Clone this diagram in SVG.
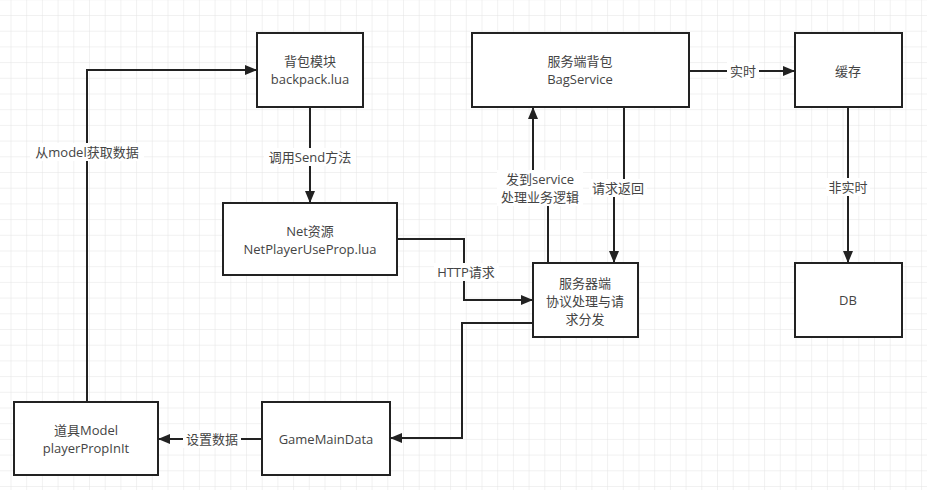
<svg xmlns="http://www.w3.org/2000/svg" width="927" height="490" viewBox="0 0 927 490">
<defs>
<pattern id="grid" x="10.5" y="15" width="15.7" height="15.7" patternUnits="userSpaceOnUse">
<path d="M0,0 H15.7 M0,0 V15.7" fill="none" stroke="#e4e4e4" stroke-width="1"/>
</pattern>
<marker id="arr" viewBox="0 0 12 10" refX="12" refY="5" markerWidth="12" markerHeight="10" markerUnits="userSpaceOnUse" orient="auto">
<path d="M0,0 L12,5 L0,10 Z" fill="#222"/>
</marker>
<style>
.box{fill:#fff;stroke:#222;stroke-width:2}
.t{font-family:"Open Sans","Noto Sans CJK SC",sans-serif;font-size:13px;fill:#444;text-anchor:middle;dominant-baseline:central}
.e{fill:none;stroke:#222;stroke-width:2}
.lb{fill:#fff}
</style>
</defs>
<rect width="927" height="490" fill="#fff"/>
<rect width="927" height="490" fill="url(#grid)"/>
<g id="connectors">
<path class="e" d="M87,402 V70 H257" marker-end="url(#arr)"/>
<path class="e" d="M310,107 V203" marker-end="url(#arr)"/>
<path class="e" d="M397,239 H464 V300 H533" marker-end="url(#arr)"/>
<path class="e" d="M548,263 V188 H533 V107" marker-end="url(#arr)"/>
<path class="e" d="M624,107 V188 H614 V263" marker-end="url(#arr)"/>
<path class="e" d="M689,71 H795" marker-end="url(#arr)"/>
<path class="e" d="M848,107 V263" marker-end="url(#arr)"/>
<path class="e" d="M533,323 H462 V438 H390" marker-end="url(#arr)"/>
<path class="e" d="M262,439 H158" marker-end="url(#arr)"/>
<rect class="lb" x="30" y="143" width="114" height="18"/>
<text class="t" x="87" y="152">从model获取数据</text>
<rect class="lb" x="264" y="148" width="92" height="18"/>
<text class="t" x="310" y="157">调用Send方法</text>
<rect class="lb" x="434" y="263" width="65" height="18"/>
<text class="t" x="466" y="272">HTTP请求</text>
<rect class="lb" x="497" y="170" width="86" height="36"/>
<text class="t" x="540" y="179">发到service</text>
<text class="t" x="540" y="197">处理业务逻辑</text>
<rect class="lb" x="589" y="179" width="58" height="18"/>
<text class="t" x="618" y="188">请求返回</text>
<rect class="lb" x="727" y="62" width="32" height="18"/>
<text class="t" x="743" y="71">实时</text>
<rect class="lb" x="826" y="178" width="44" height="18"/>
<text class="t" x="848" y="187">非实时</text>
<rect class="lb" x="183" y="430" width="58" height="18"/>
<text class="t" x="212" y="439">设置数据</text>
</g>
<g id="backpack">
<rect class="box" x="257" y="33" width="106" height="74"/>
<text class="t" x="310" y="61">背包模块</text>
<text class="t" x="310" y="79">backpack.lua</text>
</g>
<g id="bagservice">
<rect class="box" x="472" y="33" width="217" height="74"/>
<text class="t" x="580" y="61">服务端背包</text>
<text class="t" x="580" y="79">BagService</text>
</g>
<g id="cache">
<rect class="box" x="795" y="33" width="107" height="74"/>
<text class="t" x="848" y="71">缓存</text>
</g>
<g id="db">
<rect class="box" x="795" y="263" width="107" height="74"/>
<text class="t" x="848" y="300">DB</text>
</g>
<g id="net">
<rect class="box" x="223" y="203" width="174" height="72"/>
<text class="t" x="310" y="231">Net资源</text>
<text class="t" x="310" y="249">NetPlayerUseProp.lua</text>
</g>
<g id="server">
<rect class="box" x="533" y="263" width="105" height="74"/>
<text class="t" x="585" y="283">服务器端</text>
<text class="t" x="585" y="301">协议处理与请</text>
<text class="t" x="585" y="319">求分发</text>
</g>
<g id="gamemaindata">
<rect class="box" x="262" y="402" width="128" height="73"/>
<text class="t" x="326" y="439">GameMainData</text>
</g>
<g id="model">
<rect class="box" x="14" y="402" width="144" height="73"/>
<text class="t" x="86" y="430">道具Model</text>
<text class="t" x="86" y="448">playerPropInIt</text>
</g>
</svg>
